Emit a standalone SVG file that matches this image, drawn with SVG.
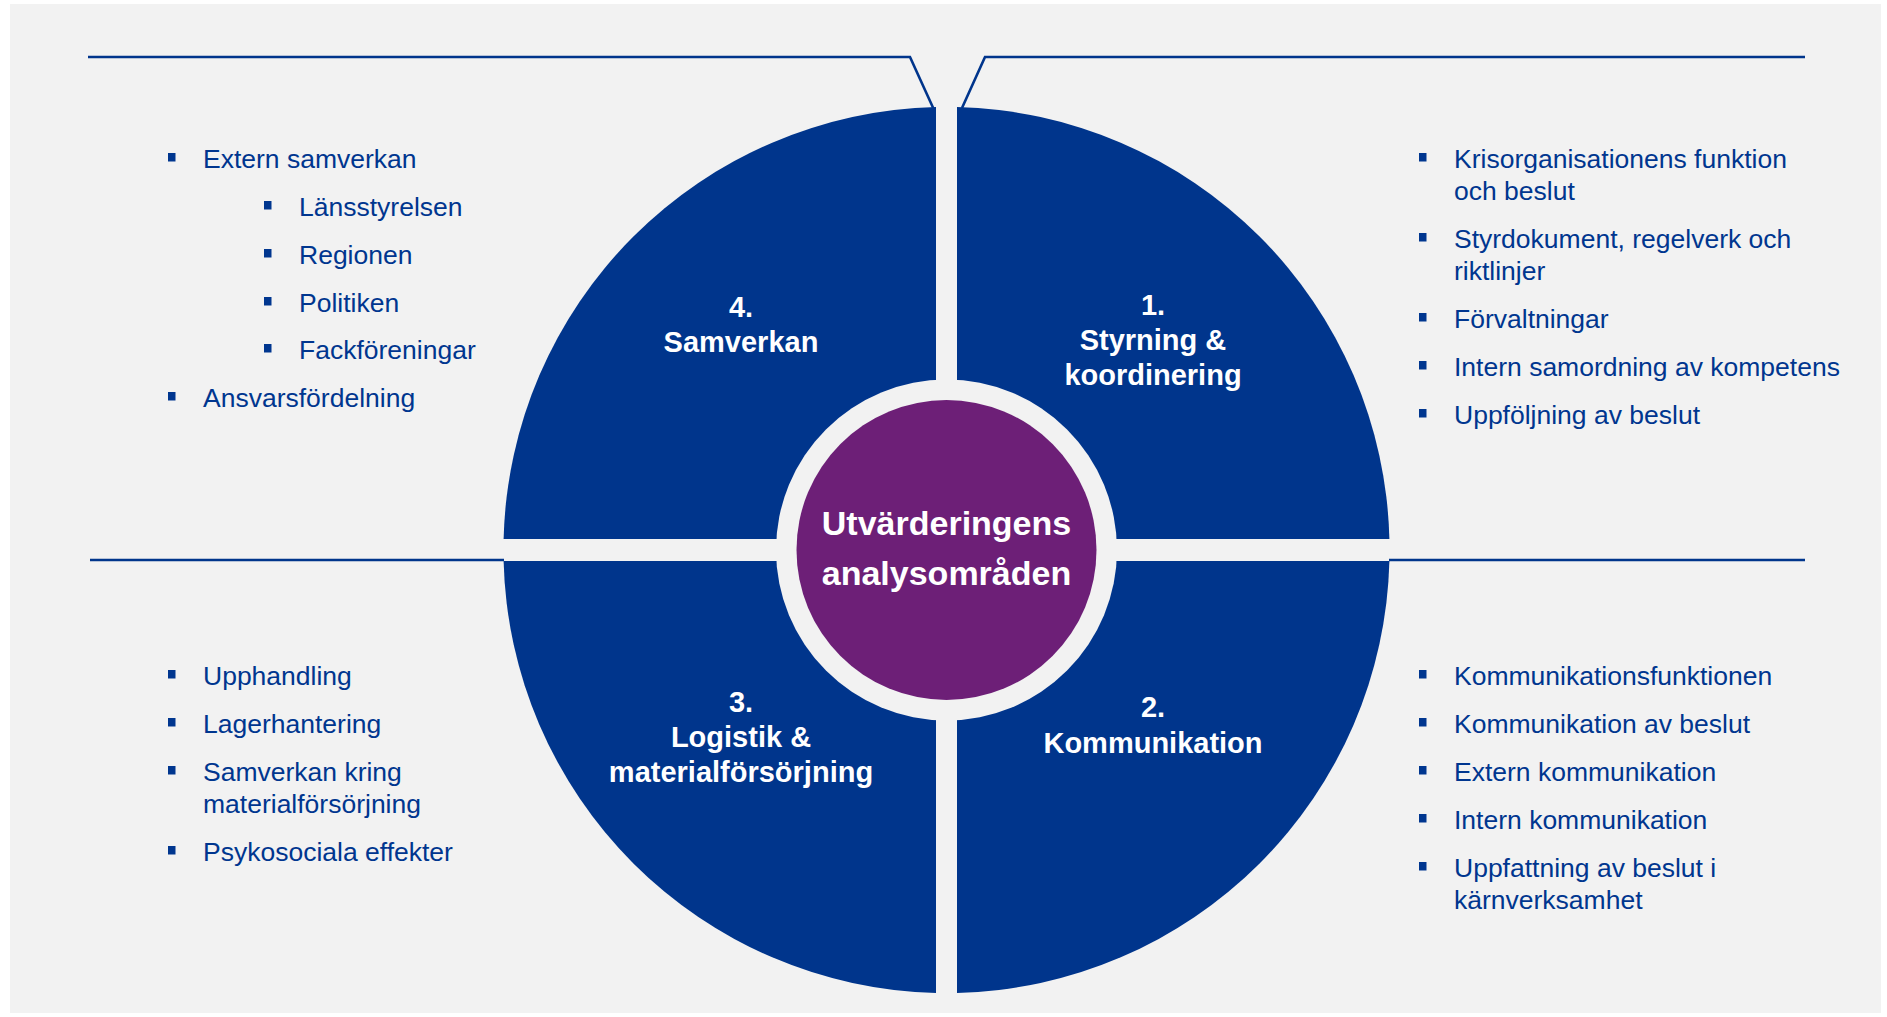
<svg xmlns="http://www.w3.org/2000/svg" width="1887" height="1017" viewBox="0 0 1887 1017">
<defs>
<style>
.q{fill:#00358c;}
.ln{fill:none;stroke:#00358c;stroke-width:2.6;}
.t{font-family:"Liberation Sans",Arial,sans-serif;font-size:26.5px;fill:#00368f;}
.b{fill:#00368f;}
.lbl{font-family:"Liberation Sans",Arial,sans-serif;font-size:29px;font-weight:bold;fill:#ffffff;text-anchor:middle;}
.ctr{font-family:"Liberation Sans",Arial,sans-serif;font-size:34px;font-weight:bold;fill:#ffffff;text-anchor:middle;}
</style>
</defs>
<rect x="0" y="0" width="1887" height="1017" fill="#ffffff"/>
<rect x="10" y="4" width="1871" height="1009" fill="#f2f2f2"/>

<g id="connectors">
<path class="ln" d="M88,57 L910,57 L935,112"/>
<path class="ln" d="M1805,57 L985,57 L962,108"/>
<path class="ln" d="M90,560 L504,560"/>
<path class="ln" d="M1389,560 L1805,560"/>
</g>

<g id="q4">
<path class="q" d="M936,539 L936,107.1 A443,443 0 0 0 503.6,539 Z"/>
<text class="lbl" x="741" y="317">4.</text>
<text class="lbl" x="741" y="352">Samverkan</text>
</g>
<g id="q1">
<path class="q" d="M957,539 L957,107.1 A443,443 0 0 1 1389.4,539 Z"/>
<text class="lbl" x="1153" y="315">1.</text>
<text class="lbl" x="1153" y="350">Styrning &amp;</text>
<text class="lbl" x="1153" y="385">koordinering</text>
</g>
<g id="q2">
<path class="q" d="M957,561 L1389.4,561 A443,443 0 0 1 957,992.9 Z"/>
<text class="lbl" x="1153" y="717">2.</text>
<text class="lbl" x="1153" y="753">Kommunikation</text>
</g>
<g id="q3">
<path class="q" d="M936,561 L936,992.9 A443,443 0 0 1 503.6,561 Z"/>
<text class="lbl" x="741" y="712">3.</text>
<text class="lbl" x="741" y="747">Logistik &amp;</text>
<text class="lbl" x="741" y="782">materialförsörjning</text>
</g>

<g id="center">
<circle cx="946.5" cy="550" r="170.5" fill="#f2f2f2"/>
<circle cx="946.5" cy="550" r="150" fill="#6d1f77"/>
<text class="ctr" x="946.5" y="535">Utvärderingens</text>
<text class="ctr" x="946.5" y="585">analysområden</text>
</g>

<g id="list-samverkan">
<rect class="b" x="168" y="153" width="7.5" height="8.5"/>
<text class="t" x="203" y="168">Extern samverkan</text>
<rect class="b" x="264" y="201" width="7.5" height="8.5"/>
<text class="t" x="299" y="216">Länsstyrelsen</text>
<rect class="b" x="264" y="249" width="7.5" height="8.5"/>
<text class="t" x="299" y="264">Regionen</text>
<rect class="b" x="264" y="297" width="7.5" height="8.5"/>
<text class="t" x="299" y="312">Politiken</text>
<rect class="b" x="264" y="344" width="7.5" height="8.5"/>
<text class="t" x="299" y="359">Fackföreningar</text>
<rect class="b" x="168" y="392" width="7.5" height="8.5"/>
<text class="t" x="203" y="407">Ansvarsfördelning</text>
</g>

<g id="list-styrning">
<rect class="b" x="1419" y="153" width="7.5" height="8.5"/>
<text class="t" x="1454" y="168">Krisorganisationens funktion</text>
<text class="t" x="1454" y="200">och beslut</text>
<rect class="b" x="1419" y="233" width="7.5" height="8.5"/>
<text class="t" x="1454" y="248">Styrdokument, regelverk och</text>
<text class="t" x="1454" y="280">riktlinjer</text>
<rect class="b" x="1419" y="313" width="7.5" height="8.5"/>
<text class="t" x="1454" y="328">Förvaltningar</text>
<rect class="b" x="1419" y="361" width="7.5" height="8.5"/>
<text class="t" x="1454" y="376">Intern samordning av kompetens</text>
<rect class="b" x="1419" y="409" width="7.5" height="8.5"/>
<text class="t" x="1454" y="424">Uppföljning av beslut</text>
</g>

<g id="list-logistik">
<rect class="b" x="168" y="670" width="7.5" height="8.5"/>
<text class="t" x="203" y="685">Upphandling</text>
<rect class="b" x="168" y="718" width="7.5" height="8.5"/>
<text class="t" x="203" y="733">Lagerhantering</text>
<rect class="b" x="168" y="766" width="7.5" height="8.5"/>
<text class="t" x="203" y="781">Samverkan kring</text>
<text class="t" x="203" y="813">materialförsörjning</text>
<rect class="b" x="168" y="846" width="7.5" height="8.5"/>
<text class="t" x="203" y="861">Psykosociala effekter</text>
</g>

<g id="list-kommunikation">
<rect class="b" x="1419" y="670" width="7.5" height="8.5"/>
<text class="t" x="1454" y="685">Kommunikationsfunktionen</text>
<rect class="b" x="1419" y="718" width="7.5" height="8.5"/>
<text class="t" x="1454" y="733">Kommunikation av beslut</text>
<rect class="b" x="1419" y="766" width="7.5" height="8.5"/>
<text class="t" x="1454" y="781">Extern kommunikation</text>
<rect class="b" x="1419" y="814" width="7.5" height="8.5"/>
<text class="t" x="1454" y="829">Intern kommunikation</text>
<rect class="b" x="1419" y="862" width="7.5" height="8.5"/>
<text class="t" x="1454" y="877">Uppfattning av beslut i</text>
<text class="t" x="1454" y="909">kärnverksamhet</text>
</g>
</svg>
